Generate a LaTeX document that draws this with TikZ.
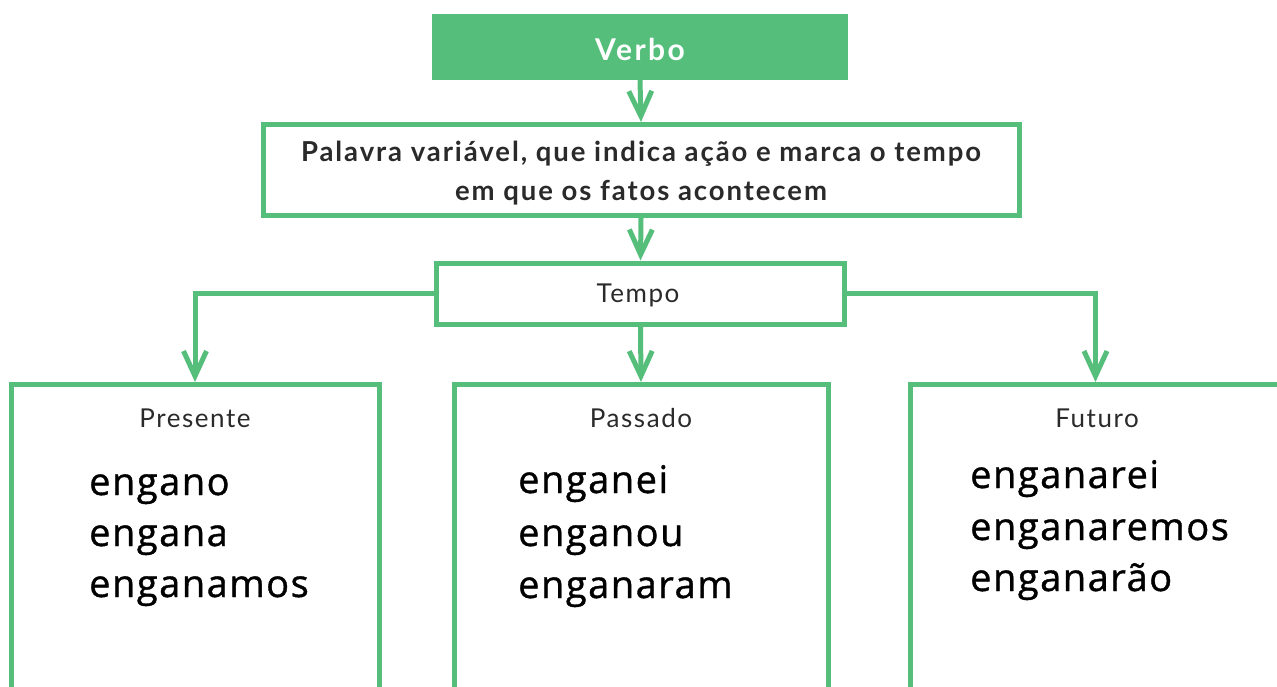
\documentclass[tikz,border=0pt]{standalone}
\usepackage{fontspec}
\usetikzlibrary{arrows.meta}
\newfontfamily\labfont[LetterSpace=6]{Lato}
\newfontfamily\deffont[LetterSpace=7]{Lato}
\newfontfamily\verbofont[LetterSpace=8]{Lato}
\newfontfamily\wrdfont[LetterSpace=4,FakeBold=1]{Open Sans}
\definecolor{vgreen}{HTML}{55BE7B}
\definecolor{labtext}{HTML}{2A2A2A}
\tikzset{
  gbox/.style={draw=vgreen, line width=5pt, inner sep=0pt},
  garr/.style={draw=vgreen, line width=5pt, -{Straight Barb[length=25pt,width=23pt,line width=5pt]}},
  lab/.style={font=\labfont\fontsize{26}{30}\selectfont, text=labtext, inner sep=0pt, anchor=base},
  deftext/.style={font=\deffont\bfseries\fontsize{27.5}{35}\selectfont, text=labtext, inner sep=0pt, anchor=base},
  wrd/.style={font=\wrdfont\fontsize{38}{42}\selectfont, text=black, inner sep=0pt, anchor=base west},
}
\begin{document}
\begin{tikzpicture}[x=1pt,y=-1pt]
\useasboundingbox (0,0) rectangle (1277,686);
\clip (0,0) rectangle (1277,686);
% top
\node[fill=vgreen, minimum width=416pt, minimum height=66pt, inner sep=0pt] (verbo) at (640,47) {};
\node[font=\verbofont\bfseries\fontsize{30}{34}\selectfont, text=white, inner sep=0pt, anchor=base] (verbot) at (640,60) {Verbo};
\node[gbox, minimum width=756pt, minimum height=91pt] (def) at (641,170) {};
\node[deftext] (defa) at (641,161) {Palavra variável, que indica ação e marca o tempo};
\node[deftext] (defb) at (641,200) {em que os fatos acontecem};
\node[gbox, minimum width=408pt, minimum height=61pt] (tempo) at (640.5,293.5) {};
\node[lab] (tempot) at (638,302) {Tempo};
% columns
\node[gbox, minimum width=368pt, minimum height=380pt] (pres) at (195,574.5) {};
\node[gbox, minimum width=374pt, minimum height=380pt] (pass) at (641,574.5) {};
\node[gbox, minimum width=371pt, minimum height=380pt] (fut) at (1095.5,574.5) {};
\node[lab] (prest) at (195,427) {Presente};
\node[lab] (passt) at (641,427) {Passado};
\node[lab] (futt) at (1097,427) {Futuro};
% arrows
\draw[garr] (verbo.south) -- (def.north);
\draw[garr] (def.south) -- (tempo.north);
\draw[garr] (tempo.south) -- (pass.north);
\draw[garr] (tempo.west) -- (pres.north |- tempo.west) -- (pres.north);
\draw[garr] (tempo.east) -- (fut.north |- tempo.east) -- (fut.north);
% words
\node[wrd] (w1) at (89,495) {engano};
\node[wrd] (w2) at (89,546) {engana};
\node[wrd] (w3) at (89,597) {enganamos};
\node[wrd] (w4) at (518,493) {enganei};
\node[wrd] (w5) at (518,546) {enganou};
\node[wrd] (w6) at (518,598) {enganaram};
\node[wrd] (w7) at (970,488) {enganarei};
\node[wrd] (w8) at (970,540) {enganaremos};
\node[wrd] (w9) at (970,591) {enganarão};
\end{tikzpicture}
\end{document}
